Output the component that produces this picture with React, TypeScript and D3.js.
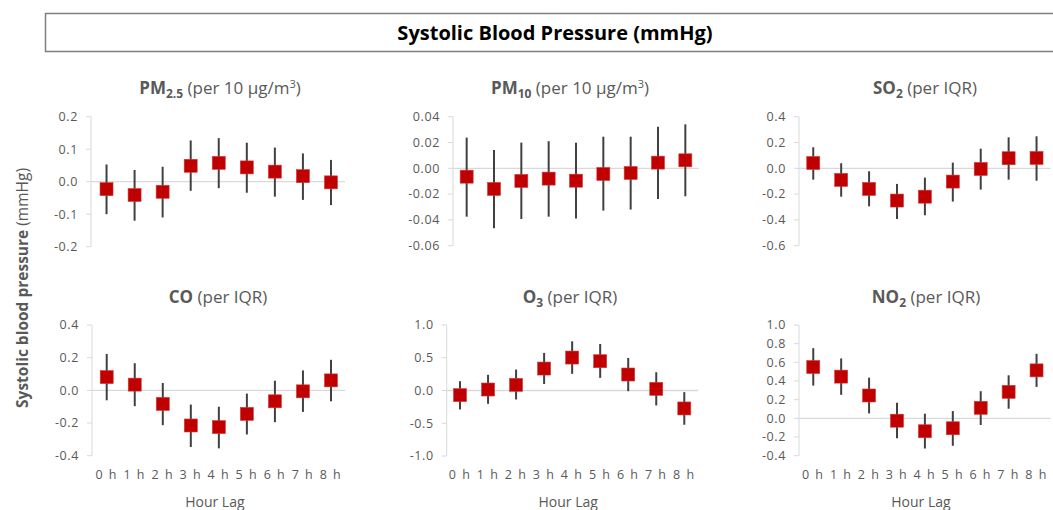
import React from "react";
import * as d3 from "d3";

// hour lags on the x axis
const lags = ["0 h", "1 h", "2 h", "3 h", "4 h", "5 h", "6 h", "7 h", "8 h"];

// PM2.5 (per 10 ug/m3)
const pm25Est = [-0.023, -0.041, -0.031, 0.049, 0.058, 0.044, 0.031, 0.017, -0.002];
const pm25Low = [-0.1, -0.12, -0.11, -0.028, -0.02, -0.034, -0.046, -0.056, -0.072];
const pm25High = [0.053, 0.036, 0.046, 0.127, 0.134, 0.12, 0.105, 0.087, 0.067];

// PM10 (per 10 ug/m3)
const pm10Est = [-0.0065, -0.016, -0.0098, -0.008, -0.0096, -0.0044, -0.0036, 0.0044, 0.0062];
const pm10Low = [-0.0375, -0.0465, -0.0393, -0.0375, -0.039, -0.0328, -0.032, -0.0238, -0.0217];
const pm10High = [0.0238, 0.0142, 0.0199, 0.021, 0.0199, 0.0245, 0.0245, 0.0323, 0.0341];

// SO2 (per IQR)
const so2Est = [0.041, -0.09, -0.16, -0.25, -0.22, -0.103, -0.005, 0.078, 0.08];
const so2Low = [-0.088, -0.22, -0.295, -0.393, -0.364, -0.258, -0.165, -0.088, -0.096];
const so2High = [0.163, 0.039, -0.023, -0.121, -0.072, 0.044, 0.152, 0.24, 0.248];

// CO (per IQR)
const coEst = [0.081, 0.035, -0.083, -0.215, -0.225, -0.144, -0.067, -0.006, 0.061];
const coLow = [-0.061, -0.097, -0.213, -0.347, -0.355, -0.27, -0.195, -0.132, -0.067];
const coHigh = [0.223, 0.166, 0.045, -0.087, -0.1, -0.02, 0.059, 0.122, 0.187];

// O3 (per IQR)
const o3Est = [-0.071, 0.015, 0.086, 0.335, 0.503, 0.447, 0.244, 0.025, -0.274];
const o3Low = [-0.289, -0.203, -0.137, 0.1, 0.254, 0.193, -0.01, -0.228, -0.523];
const o3High = [0.142, 0.239, 0.32, 0.574, 0.751, 0.71, 0.497, 0.279, -0.025];

// NO2 (per IQR)
const no2Est = [0.55, 0.447, 0.245, -0.025, -0.138, -0.106, 0.113, 0.284, 0.514];
const no2Low = [0.351, 0.252, 0.053, -0.213, -0.323, -0.294, -0.071, 0.103, 0.337];
const no2High = [0.752, 0.642, 0.436, 0.167, 0.05, 0.078, 0.291, 0.461, 0.691];

const GRAY = "#595959";
const RED = "#C00000";
const FONT = "'Open Sans', Lato, sans-serif";

type Panel = {
  name: string; sub: string; unit: string; sup: string;
  est: number[]; low: number[]; high: number[];
  domain: [number, number]; tickCount: number; digits: number;
  axisX: number; band: [number, number]; yRange: [number, number];
  titleY: number; titleX: number; showX: boolean;
};

const panels: Panel[] = [
  { name: "PM", sub: "2.5", unit: " (per 10 μg/m", sup: "3", est: pm25Est, low: pm25Low, high: pm25High,
    domain: [-0.2, 0.2], tickCount: 4, digits: 1, axisX: 91, band: [92.5, 345], yRange: [246.7, 116.7],
    titleY: 94, titleX: 220, showX: false },
  { name: "PM", sub: "10", unit: " (per 10 μg/m", sup: "3", est: pm10Est, low: pm10Low, high: pm10High,
    domain: [-0.06, 0.04], tickCount: 5, digits: 2, axisX: 453, band: [453, 699], yRange: [245.7, 116.7],
    titleY: 94, titleX: 570, showX: false },
  { name: "SO", sub: "2", unit: " (per IQR)", sup: "", est: so2Est, low: so2Low, high: so2High,
    domain: [-0.6, 0.4], tickCount: 5, digits: 1, axisX: 799, band: [799.3, 1050.5], yRange: [245.7, 116.7],
    titleY: 94, titleX: 925, showX: false },
  { name: "CO", sub: "", unit: " (per IQR)", sup: "", est: coEst, low: coLow, high: coHigh,
    domain: [-0.4, 0.4], tickCount: 4, digits: 1, axisX: 92, band: [92.7, 345], yRange: [455.7, 325],
    titleY: 303, titleX: 218, showX: true },
  { name: "O", sub: "3", unit: " (per IQR)", sup: "", est: o3Est, low: o3Low, high: o3High,
    domain: [-1, 1], tickCount: 4, digits: 1, axisX: 446.7, band: [446, 698.3], yRange: [456, 325],
    titleY: 303, titleX: 570, showX: true },
  { name: "NO", sub: "2", unit: " (per IQR)", sup: "", est: no2Est, low: no2Low, high: no2High,
    domain: [-0.4, 1.0], tickCount: 7, digits: 1, axisX: 799, band: [799.3, 1050.5], yRange: [455.7, 325],
    titleY: 303, titleX: 926, showX: true },
];

function PanelChart({ p }: { p: Panel }) {
  const x = d3.scaleBand<string>().domain(lags).range(p.band).paddingInner(0).paddingOuter(0);
  const y = d3.scaleLinear().domain(p.domain).range(p.yRange);
  const fmt = (v: number) => d3.format(`.${p.digits}f`)(v).replace("−", "-");
  const ticks = y.ticks(p.tickCount);
  const size = 13;
  return (
    <g>
      <text x={p.titleX} y={p.titleY} textAnchor="middle" fill={GRAY} fontSize={17} fontFamily={FONT}>
        <tspan fontWeight="bold">{p.name}</tspan>
        {p.sub && <tspan fontWeight="bold" fontSize={12} dy={4}>{p.sub}</tspan>}
        <tspan dy={p.sub ? -4 : 0}>{p.unit}</tspan>
        {p.sup && <tspan fontSize={11} dy={-6}>{p.sup}</tspan>}
        {p.sup && <tspan dy={6}>)</tspan>}
      </text>
      {/* y axis */}
      <line x1={p.axisX} x2={p.axisX} y1={p.yRange[1]} y2={p.yRange[0]} stroke="#d9d9d9" strokeWidth={1} />
      {ticks.map((t) => (
        <g key={t}>
          <line x1={p.axisX - 5} x2={p.axisX} y1={y(t)} y2={y(t)} stroke="#d9d9d9" />
          <text x={p.axisX - 13} y={y(t)} dy="0.35em" textAnchor="end" fill={GRAY} fontSize={12.5}
            fontFamily={FONT} letterSpacing={0.6}>{fmt(t)}</text>
        </g>
      ))}
      {/* zero line */}
      <line x1={p.axisX} x2={p.band[1]} y1={y(0)} y2={y(0)} stroke="#d9d9d9" strokeWidth={1.3} />
      {lags.map((l, i) => {
        const cx = (x(l) as number) + x.bandwidth() / 2;
        return (
          <g key={l}>
            <line x1={cx} x2={cx} y1={y(p.low[i])} y2={y(p.high[i])} stroke="#404040" strokeWidth={2} />
            <rect x={cx - size / 2} y={y(p.est[i]) - size / 2} width={size} height={size} fill={RED}
              stroke="#d23a3a" strokeWidth={0.6} />
          </g>
        );
      })}
      {p.showX && lags.map((l) => (
        <text key={l} x={(x(l) as number) + x.bandwidth() / 2} y={479} textAnchor="middle" fill={GRAY}
          fontSize={12.5} fontFamily={FONT} letterSpacing={1.5}>{l}</text>
      ))}
      {p.showX && (
        <text x={(p.band[0] + p.band[1]) / 2 - 4} y={507} textAnchor="middle" fill={GRAY} fontSize={14}
          fontFamily={FONT}>Hour Lag</text>
      )}
    </g>
  );
}

export default function App() {
  return (
    <div style={{ position: "absolute", left: 0, top: 0 }}>
      <svg width={1053} height={510} style={{ display: "block", background: "#fff" }}>
        <rect x={45.5} y={13.5} width={1020} height={38} fill="#fff" stroke="#7f7f7f" strokeWidth={1.5} />
        <text x={555} y={40} textAnchor="middle" fontSize={20} fontWeight="bold" fill="#000"
          fontFamily="'Liberation Sans Narrow', 'Open Sans', sans-serif">Systolic Blood Pressure (mmHg)</text>
        <text transform="rotate(-90)" x={-288} y={28} textAnchor="middle" fill={GRAY} fontSize={15.5}
          fontFamily={FONT}>
          <tspan fontWeight="bold">Systolic blood pressure</tspan> (mmHg)
        </text>
        {panels.map((p, i) => <PanelChart key={i} p={p} />)}
      </svg>
    </div>
  );
}
